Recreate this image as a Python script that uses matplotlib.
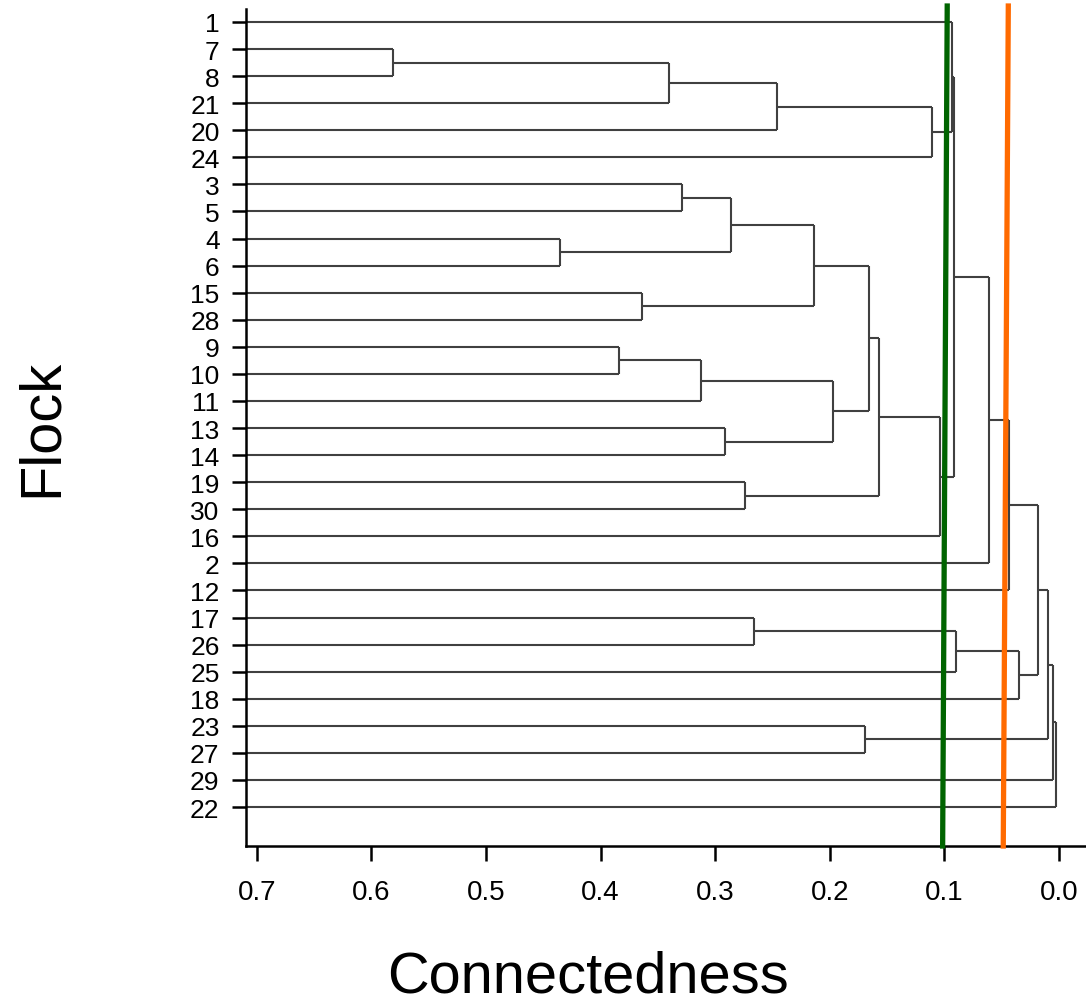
import matplotlib.pyplot as plt

plt.rcParams['font.family'] = ['Liberation Sans', 'DejaVu Sans']

# leaf order from top to bottom
leaves = ["1", "7", "8", "21", "20", "24", "3", "5", "4", "6", "15", "28", "9", "10",
          "11", "13", "14", "19", "30", "16", "2", "12", "17", "26", "25", "18", "23",
          "27", "29", "22"]

# merges: (child a, child b, connectedness); clusters are named c0, c1, ... in order
merges = [
    ("7", "8", 0.581),
    ("c0", "21", 0.340),
    ("c1", "20", 0.246),
    ("c2", "24", 0.111),
    ("1", "c3", 0.093),
    ("3", "5", 0.329),
    ("4", "6", 0.435),
    ("c5", "c6", 0.286),
    ("15", "28", 0.364),
    ("c7", "c8", 0.2135),
    ("9", "10", 0.384),
    ("c10", "11", 0.312),
    ("13", "14", 0.291),
    ("c11", "c12", 0.1975),
    ("c9", "c13", 0.166),
    ("19", "30", 0.274),
    ("c14", "c15", 0.157),
    ("c16", "16", 0.104),
    ("c4", "c17", 0.0915),
    ("c18", "2", 0.061),
    ("c19", "12", 0.0436),
    ("17", "26", 0.266),
    ("c21", "25", 0.0896),
    ("c22", "18", 0.035),
    ("c20", "c23", 0.0186),
    ("23", "27", 0.169),
    ("c24", "c25", 0.0093),
    ("c26", "29", 0.005),
    ("c27", "22", 0.003),
]

# hand-drawn cut lines: connectedness at top and at bottom of the plot
green_cut = (0.0975, 0.1015)
orange_cut = (0.0442, 0.0486)

xticks = [0.7, 0.6, 0.5, 0.4, 0.3, 0.2, 0.1, 0.0]

x_left, x_right = 0.7094, -0.0236
y_top, y_bottom = -0.48, 30.44

fig = plt.figure(figsize=(10.86, 10.04), dpi=100)
ax = fig.add_axes([246 / 1086, 157 / 1004, 840 / 1086, 837 / 1004])

pos = {name: (x_left, i) for i, name in enumerate(leaves)}
line_kw = dict(color="#404040", lw=1.5, solid_capstyle="butt")
for k, (a, b, h) in enumerate(merges):
    xa, ya = pos[a]
    xb, yb = pos[b]
    ax.plot([xa, h], [ya, ya], **line_kw)
    ax.plot([xb, h], [yb, yb], **line_kw)
    ax.plot([h, h], [ya, yb], **line_kw)
    pos[f"c{k}"] = (h, (ya + yb) / 2)

cut_y0 = -0.59
ax.plot(green_cut, [cut_y0, y_bottom], color="#006400", lw=3.8, clip_on=False, zorder=5)
ax.plot(orange_cut, [cut_y0, y_bottom], color="#ff6a00", lw=3.8, clip_on=False, zorder=5)

ax.set_xlim(x_left, x_right)
ax.set_ylim(y_bottom, y_top)
ax.set_yticks(range(len(leaves)))
ax.set_yticklabels(leaves, fontsize=19)
ax.set_xticks(xticks)
ax.set_xticklabels([f"{t:.1f}" for t in xticks], fontsize=20)
ax.tick_params(axis="y", length=10, width=1.8, pad=9)
ax.tick_params(axis="x", length=11, width=1.8, pad=13)
for side in ["top", "right"]:
    ax.spines[side].set_visible(False)
for side in ["left", "bottom"]:
    ax.spines[side].set_linewidth(1.8)

fig.text(588 / 1086, 11 / 1004, "Connectedness", fontsize=41.6, ha="center", va="baseline")
fig.text(42 / 1086, 576 / 1004, "Flock", fontsize=41.6, rotation=90, ha="center", va="center")

fig.savefig("out.png", dpi=100)
